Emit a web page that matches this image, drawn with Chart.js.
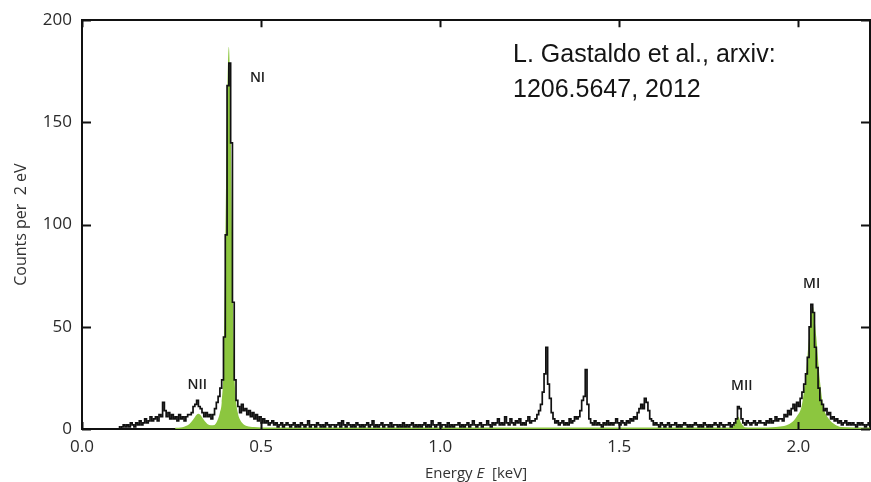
<!DOCTYPE html>
<html>
<head>
<meta charset="utf-8">
<script src="https://cdn.jsdelivr.net/npm/chart.js@4.4.1/dist/chart.umd.min.js"></script>
<style>
  html, body { margin: 0; padding: 0; background: #ffffff; }
  #wrap { width: 871px; height: 482px; }
</style>
</head>
<body>
<div id="wrap"><canvas id="spec" width="871" height="482"></canvas></div>
<script>
// Histogram of measured counts, 5 eV bins starting at 0.100 keV
const binStart = 0.10;
const binWidth = 0.005;
const counts = [
  1, 0, 1, 2, 1, 2, 1, 3, 2, 1,        // 0.10
  3, 2, 4, 2, 3, 5, 3, 4, 6, 4,        // 0.15
  5, 6, 4, 7, 6, 13, 9, 6, 8, 5,       // 0.20
  7, 5, 6, 4, 7, 5, 6, 4, 6, 7,        // 0.25
  7, 8, 11, 12, 14, 11, 10, 8, 6, 8,   // 0.30
  6, 7, 5, 7, 10, 13, 16, 20, 24, 45,  // 0.35
  95, 168, 179, 140, 62, 24, 14, 11, 8, 12, // 0.40
  9, 10, 7, 9, 6, 8, 5, 7, 4, 6,       // 0.45
  3, 5, 3, 4, 2, 3, 4, 2, 3, 1,        // 0.50
  2, 3, 1, 2, 3, 2, 1, 2, 3, 1,        // 0.55
  2, 1, 3, 2, 1, 2, 4, 1, 2, 2,        // 0.60
  1, 3, 2, 1, 2, 1, 3, 2, 1, 2,        // 0.65
  2, 1, 2, 3, 1, 4, 2, 1, 3, 2,        // 0.70
  1, 2, 1, 3, 2, 1, 2, 1, 2, 3,        // 0.75
  1, 2, 4, 1, 2, 1, 2, 3, 1, 2,        // 0.80
  2, 1, 3, 1, 2, 2, 1, 2, 1, 3,        // 0.85
  1, 2, 1, 2, 3, 1, 2, 1, 2, 1,        // 0.90
  2, 3, 1, 2, 1, 4, 2, 1, 2, 3,        // 0.95
  1, 2, 2, 1, 3, 1, 2, 1, 2, 2,        // 1.00
  3, 1, 2, 1, 2, 3, 1, 2, 4, 2,        // 1.05
  1, 2, 3, 1, 2, 2, 4, 2, 1, 3,        // 1.10
  2, 3, 5, 2, 3, 2, 6, 3, 2, 5,        // 1.15
  3, 2, 4, 3, 5, 2, 3, 2, 4, 6,        // 1.20
  3, 4, 4, 5, 7, 9, 12, 18, 27, 40,    // 1.25
  22, 15, 8, 5, 3, 4, 2, 3, 4, 2,      // 1.30
  3, 2, 5, 3, 4, 6, 5, 6, 9, 14,       // 1.35
  16, 29, 12, 5, 3, 2, 4, 2, 3, 2,     // 1.40
  1, 3, 2, 4, 2, 3, 2, 3, 5, 3,        // 1.45
  2, 4, 3, 2, 4, 3, 5, 4, 6, 5,        // 1.50
  8, 10, 12, 10, 15, 13, 9, 5, 4, 2,   // 1.55
  3, 2, 1, 3, 2, 1, 2, 3, 1, 2,        // 1.60
  2, 3, 1, 2, 1, 2, 3, 2, 1, 2,        // 1.65
  1, 2, 3, 2, 1, 2, 1, 3, 2, 1,        // 1.70
  2, 1, 2, 3, 2, 1, 3, 2, 1, 2,        // 1.75
  2, 3, 1, 2, 3, 5, 11, 10, 5, 3,      // 1.80
  2, 4, 3, 2, 3, 4, 2, 3, 4, 3,        // 1.85
  3, 2, 4, 3, 5, 3, 4, 6, 4, 5,        // 1.90
  5, 4, 7, 6, 9, 7, 10, 12, 9, 13,     // 1.95
  11, 15, 18, 22, 27, 35, 50, 61, 57, 40, // 2.00
  30, 20, 14, 12, 9, 10, 7, 8, 5, 6,   // 2.05
  4, 5, 3, 4, 2, 3, 4, 2, 3, 2,        // 2.10
  3, 2, 1, 3, 2, 3, 2, 1, 2, 3         // 2.15
];

// Fitted N and M capture lines (shaded)
const fitEnergy = [
  0.26, 0.28, 0.29, 0.30, 0.31, 0.32, 0.325, 0.33, 0.34, 0.35, 0.36,
  0.37, 0.375, 0.38, 0.385, 0.39, 0.395, 0.40, 0.405, 0.41, 0.415, 0.42,
  0.425, 0.43, 0.435, 0.44, 0.45, 0.46, 0.48, 0.52,
  1.80, 1.815, 1.825, 1.832, 1.84, 1.85, 1.87,
  1.96, 1.98, 1.995, 2.01, 2.02, 2.03, 2.04, 2.05, 2.06, 2.07, 2.085, 2.10, 2.12, 2.20
];
const fitCounts = [
  0.6, 0.9, 1.5, 2.5, 4.5, 7, 7.5, 7, 4.5, 2.5, 1.8,
  2, 3, 5, 8, 13, 30, 85, 155, 187, 150, 80,
  30, 14, 8, 5, 2.5, 1.5, 1, 0.7,
  0.7, 0.9, 3, 6, 3, 0.9, 0.7,
  1.5, 3, 6, 12, 25, 45, 60, 45, 24, 11, 5, 2.5, 1, 0.7
];

// Line labels: [text, energy (keV), counts]
const lineLabels = [
  ['NI', 0.490, 171.5],
  ['NII', 0.322, 21.7],
  ['MII', 1.842, 21.2],
  ['MI', 2.037, 71]
];

const xTicks = [0.0, 0.5, 1.0, 1.5, 2.0];
const yTicks = [0, 50, 100, 150, 200];

const citation = ['L. Gastaldo et al., arxiv:', '1206.5647, 2012'];

const histPoints = counts.map((c, i) => ({ x: binStart + binWidth * (i + 0.5), y: c }));
const fitPoints = fitEnergy.map((e, i) => ({ x: e, y: fitCounts[i] }));

const tickFont = { family: 'Open Sans', size: 17 };
const inkColor = '#1e1e1e';

// inward tick marks on all four sides of the frame, plus the text overlays
const frameTicks = {
  id: 'frameTicks',
  afterDatasetsDraw(chart) {
    const { ctx, chartArea: a, scales } = chart;
    ctx.save();
    ctx.strokeStyle = '#111';
    ctx.lineWidth = 2;
    ctx.beginPath();
    xTicks.forEach(v => {
      const px = Math.round(scales.x.getPixelForValue(v)) + 0.5;
      ctx.moveTo(px, a.top); ctx.lineTo(px, a.top + 7);
      ctx.moveTo(px, a.bottom); ctx.lineTo(px, a.bottom - 7);
    });
    yTicks.forEach(v => {
      const py = Math.round(scales.y.getPixelForValue(v)) + 0.5;
      ctx.moveTo(a.left, py); ctx.lineTo(a.left + 9, py);
      ctx.moveTo(a.right, py); ctx.lineTo(a.right - 9, py);
    });
    ctx.stroke();
    ctx.restore();
  },
  afterDraw(chart) {
    const { ctx, chartArea: a, scales } = chart;
    ctx.save();
    // line labels
    ctx.fillStyle = inkColor;
    ctx.font = '600 14px "Open Sans"';
    ctx.textAlign = 'center';
    ctx.textBaseline = 'middle';
    lineLabels.forEach(([t, e, c]) => {
      ctx.fillText(t, scales.x.getPixelForValue(e), scales.y.getPixelForValue(c));
    });
    // citation
    ctx.fillStyle = '#141414';
    ctx.font = '25px "Liberation Sans"';
    ctx.textAlign = 'left';
    ctx.textBaseline = 'alphabetic';
    ctx.fillText(citation[0], a.left + 431, 62);
    ctx.fillText(citation[1], a.left + 431, 97);
    // x axis title with italic symbol
    const parts = [['Energy ', 'normal'], ['E', 'italic'], ['  [keV]', 'normal']];
    const fontFor = s => s + ' 15px "Open Sans"';
    let total = 0;
    parts.forEach(([t, s]) => { ctx.font = fontFor(s); total += ctx.measureText(t).width; });
    let x = (a.left + a.right) / 2 - total / 2;
    ctx.fillStyle = '#333';
    ctx.textBaseline = 'middle';
    parts.forEach(([t, s]) => {
      ctx.font = fontFor(s);
      ctx.fillText(t, x, 474);
      x += ctx.measureText(t).width;
    });
    ctx.restore();
  }
};

const whiteBg = {
  id: 'whiteBg',
  beforeDraw(chart) {
    const { ctx, width, height } = chart;
    ctx.save();
    ctx.fillStyle = '#ffffff';
    ctx.fillRect(0, 0, width, height);
    ctx.restore();
  }
};

const frameBorder = { display: true, color: '#111', width: 2 };
const noGrid = { display: false, drawTicks: false };

new Chart(document.getElementById('spec'), {
  type: 'line',
  data: {
    datasets: [
      {
        label: 'counts',
        data: histPoints,
        stepped: 'middle',
        borderColor: '#111',
        borderWidth: 1.7,
        pointRadius: 0,
        fill: false,
        order: 1
      },
      {
        label: 'fit',
        data: fitPoints,
        borderWidth: 0,
        borderColor: 'rgba(0,0,0,0)',
        backgroundColor: '#8cc63f',
        fill: 'origin',
        pointRadius: 0,
        cubicInterpolationMode: 'monotone',
        order: 2
      }
    ]
  },
  options: {
    responsive: false,
    animation: false,
    devicePixelRatio: 1,
    plugins: { legend: { display: false }, tooltip: { enabled: false } },
    layout: { padding: 0 },
    scales: {
      x: {
        type: 'linear', position: 'bottom', min: 0, max: 2.2,
        afterBuildTicks: s => { s.ticks = xTicks.map(v => ({ value: v })); },
        afterFit: s => { s.height = 53; },
        ticks: { callback: v => v.toFixed(1), font: tickFont, color: '#2a2a2a', padding: 8, maxRotation: 0 },
        grid: noGrid,
        border: frameBorder
      },
      xTop: {
        type: 'linear', position: 'top', min: 0, max: 2.2,
        afterFit: s => { s.height = 19; },
        ticks: { display: false },
        grid: noGrid,
        border: frameBorder
      },
      y: {
        type: 'linear', position: 'left', min: 0, max: 200,
        afterBuildTicks: s => { s.ticks = yTicks.map(v => ({ value: v })); },
        afterFit: s => { s.width = 82; },
        ticks: { font: tickFont, color: '#2a2a2a', padding: 10 },
        title: { display: true, text: 'Counts per  2 eV', font: { family: 'Open Sans', size: 16 }, color: '#333', padding: { top: 12, bottom: 0 } },
        grid: noGrid,
        border: frameBorder
      },
      yRight: {
        type: 'linear', position: 'right', min: 0, max: 200,
        afterFit: s => { s.width = 1; },
        ticks: { display: false },
        grid: noGrid,
        border: frameBorder
      }
    }
  },
  plugins: [whiteBg, frameTicks]
});
</script>
</body>
</html>
